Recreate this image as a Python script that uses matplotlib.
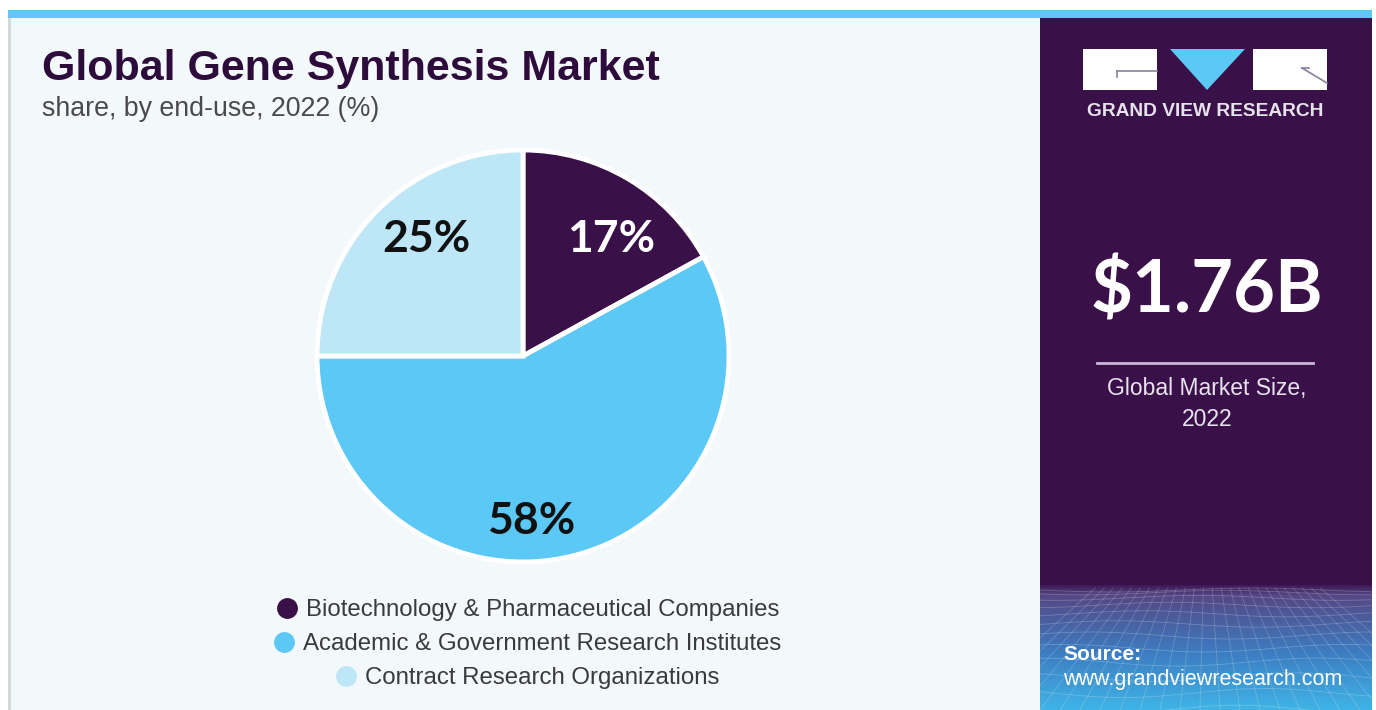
import numpy as np
import matplotlib
matplotlib.use("Agg")
import matplotlib.pyplot as plt
from matplotlib.patches import Rectangle, Polygon
from matplotlib.lines import Line2D
from matplotlib.colors import to_rgb

# ---------------- data ----------------
categories = ["Biotechnology & Pharmaceutical Companies",
              "Academic & Government Research Institutes",
              "Contract Research Organizations"]
shares = [17, 58, 25]
slice_colors = ["#3a1049", "#5bc8f5", "#bde6f7"]
label_colors = ["white", "#111111", "#111111"]
title = "Global Gene Synthesis Market"
subtitle = "share, by end-use, 2022 (%)"
market_size = "$1.76B"
market_label = "Global Market Size,\n2022"
brand = "GRAND VIEW RESEARCH"
source_head = "Source:"
source_url = "www.grandviewresearch.com"

# label placement (style): positions in pie-radius units
label_pos = [(0.43, 0.57), (0.04, -0.80), (-0.47, 0.57)]

W, H = 1376, 710
fig = plt.figure(figsize=(W / 100, H / 100), dpi=100)
fig.patch.set_facecolor("white")

bg = fig.add_axes([0, 0, 1, 1])
bg.axis("off")

PURPLE = "#3a1049"
bg.add_patch(Rectangle((9, 10), 1363, 700, facecolor="#f3f8fb", edgecolor="none", zorder=0))
bg.add_patch(Rectangle((8, 10), 3, 700, facecolor="#d4d8dc", edgecolor="none", zorder=1))
bg.add_patch(Rectangle((1040, 10), 332, 700, facecolor=PURPLE, edgecolor="none", zorder=1))
n = 200
c0 = np.array(to_rgb("#3d1a58"))
c1 = np.array(to_rgb("#554784"))
c2 = np.array(to_rgb("#3c7ec2"))
c3 = np.array(to_rgb("#40b4e6"))
t = np.linspace(0, 1, n)[:, None]
grad = np.where(t < 0.08, c0 + (c1 - c0) * (t / 0.08),
                np.where(t < 0.55, c1 + (c2 - c1) * ((t - 0.08) / 0.47),
                         c2 + (c3 - c2) * ((t - 0.55) / 0.45)))
grad = np.repeat(grad[:, None, :], 2, axis=1)
bg.imshow(grad, extent=[1040, 1372, 710, 585], aspect="auto", zorder=2, interpolation="bilinear")
ys = 590 + 120 * (np.linspace(0, 1, 12) ** 1.6)
xx = np.linspace(1040, 1372, 60)
for i, y0 in enumerate(ys):
    amp = 2 + 3 * i / 12
    bg.plot(xx, y0 + amp * np.sin((xx - 1040) / 45 + i * 0.6), color="white", lw=0.6, alpha=0.22, zorder=3)
for xb in np.linspace(960, 1460, 26):
    xt = 1206 + (xb - 1206) * 0.45
    bg.plot([xt, xb], [588, 710], color="white", lw=0.6, alpha=0.2, zorder=3)
bg.add_patch(Rectangle((8, 10), 1364, 8, facecolor="#5bc8f5", edgecolor="none", zorder=4))
bg.add_patch(Rectangle((1372, 0), 4, H, facecolor="white", edgecolor="none", zorder=5))

# logo
bg.add_patch(Rectangle((1083, 49), 74, 41, facecolor="white", edgecolor="none", zorder=6))
bg.add_patch(Polygon([[1170, 49], [1245, 49], [1207, 90]], closed=True, facecolor="#5bc8f5", edgecolor="none", zorder=6))
bg.add_patch(Rectangle((1253, 49), 74, 41, facecolor="white", edgecolor="none", zorder=6))
bg.plot([1117, 1157], [71, 71], color="#8a8098", lw=1.2, zorder=7)
bg.plot([1117, 1117], [71, 77], color="#8a8098", lw=1.2, zorder=7)
bg.plot([1302, 1327], [68, 83], color="#8a8098", lw=1.2, zorder=7)
bg.plot([1302, 1309], [68, 68], color="#8a8098", lw=1.2, zorder=7)
bg.text(1205, 112, brand, color="#e6e2ec", fontsize=13.8, fontweight="bold",
        family=["Liberation Sans", "DejaVu Sans"], ha="center", va="center", zorder=7)

# title/subtitle
bg.text(42, 69, title, color="#2d0c3c", fontsize=31, fontweight="bold",
        family=["Liberation Sans", "DejaVu Sans"], ha="left", va="center", zorder=7)
bg.text(42, 109, subtitle, color="#4a4a4a", fontsize=19.3,
        family=["Liberation Sans", "DejaVu Sans"], ha="left", va="center", zorder=7)

# market size panel
bg.text(1207, 292, market_size, color="white", fontsize=52, fontweight="bold",
        family=["Lato", "DejaVu Sans"], ha="center", va="center", zorder=7)
bg.plot([1097, 1313], [363, 363], color="#c9b8d9", lw=2, zorder=7)
bg.text(1207, 404, market_label, color="#e8e2ee", fontsize=16.5, linespacing=1.45,
        family=["Liberation Sans", "DejaVu Sans"], ha="center", va="center", zorder=7)
bg.text(1063, 655, source_head, color="white", fontsize=15, fontweight="bold",
        family=["Liberation Sans", "DejaVu Sans"], ha="left", va="center", zorder=7)
bg.text(1063, 680, source_url, color="white", fontsize=15.5,
        family=["Liberation Sans", "DejaVu Sans"], ha="left", va="center", zorder=7)
bg.set_xlim(0, W)
bg.set_ylim(H, 0)

# pie
cx, cy, r = 523, 356, 206
ax = fig.add_axes([(cx - r) / W, 1 - (cy + r) / H, 2 * r / W, 2 * r / H])
ax.set_zorder(10)
wedges, texts, autotexts = ax.pie(
    shares, colors=slice_colors, startangle=90, counterclock=False,
    autopct=lambda p: f"{p:.0f}%", pctdistance=0.72,
    wedgeprops=dict(edgecolor="white", linewidth=3.5),
    textprops=dict(fontsize=32, fontweight="bold", family=["Lato", "DejaVu Sans"]))
for at, c, pos in zip(autotexts, label_colors, label_pos):
    at.set_color(c)
    at.set_position(pos)
ax.set_xlim(-1.0, 1.0)
ax.set_ylim(-1.0, 1.0)
ax.set_aspect("equal")
ax.axis("off")

# legend: each entry centred on its own line
leg_y = [610, 644, 678]
for cat, col, y in zip(categories, slice_colors, leg_y):
    h = Line2D([], [], marker="o", linestyle="none", markersize=14,
               markerfacecolor=col, markeredgecolor=col)
    lg = fig.legend(handles=[h], labels=[cat], loc="center",
                    bbox_to_anchor=(527 / W, 1 - y / H), frameon=False,
                    handletextpad=0.3, handlelength=1.0,
                    prop=dict(size=17.3, family=["Liberation Sans", "DejaVu Sans"]))
    for tx in lg.get_texts():
        tx.set_color("#3a3a3a")

fig.savefig("out.png", dpi=100, facecolor="white")
